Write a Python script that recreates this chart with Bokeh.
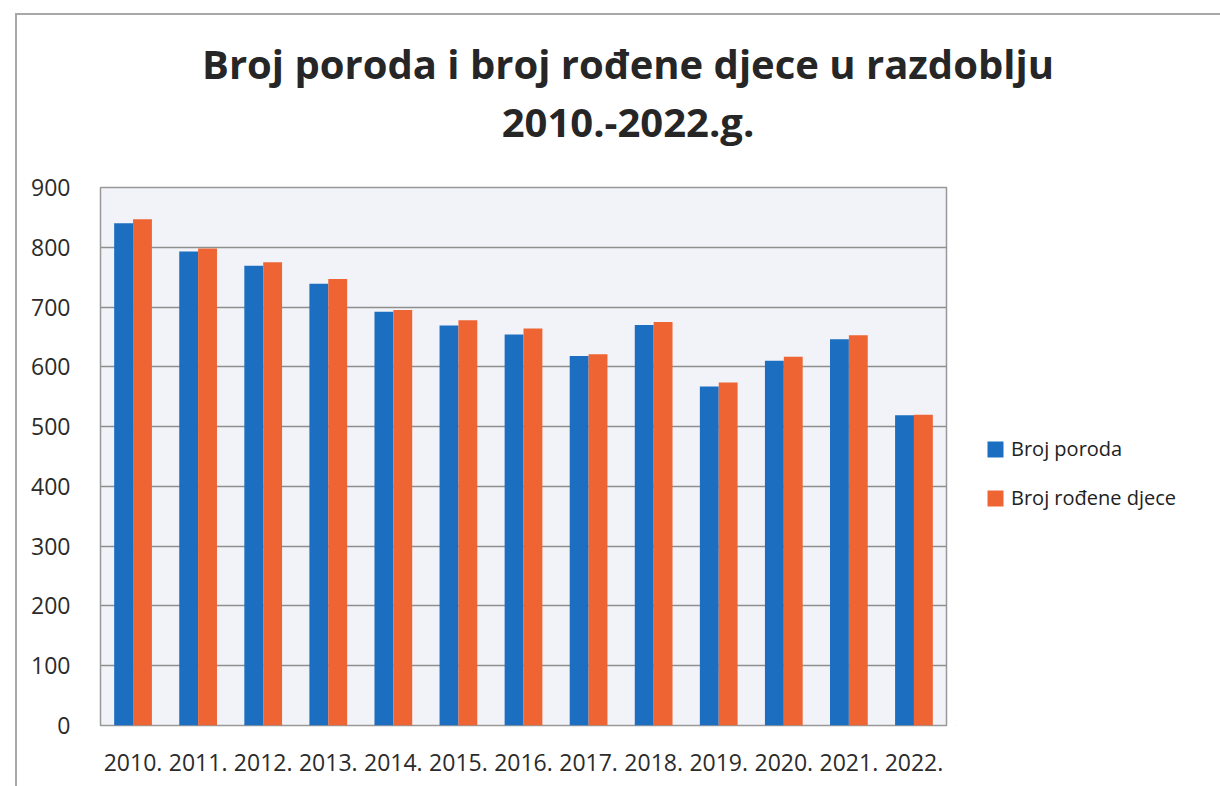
from bokeh.plotting import figure
from bokeh.models import ColumnDataSource, FactorRange, Legend, LegendItem, FixedTicker, Div
from bokeh.layouts import column, row
from bokeh.transform import dodge
from bokeh.embed import file_html
from bokeh.resources import INLINE

years = ["2010.", "2011.", "2012.", "2013.", "2014.", "2015.", "2016.",
         "2017.", "2018.", "2019.", "2020.", "2021.", "2022."]
broj_poroda = [840, 793, 769, 739, 692, 669, 654, 618, 670, 567, 610, 646, 519]
broj_rodjene_djece = [847, 798, 775, 747, 695, 678, 664, 621, 675, 574, 617, 653, 520]
y_ticks = [0, 100, 200, 300, 400, 500, 600, 700, 800, 900]

title_line1 = "Broj poroda i broj rođene djece u razdoblju"
title_line2 = "2010.-2022.g."
series_names = ["Broj poroda", "Broj rođene djece"]

BLUE = "#1c6ec1"
ORANGE = "#ee6533"
FONT = "Open Sans"

src = ColumnDataSource(dict(year=years, a=broj_poroda, b=broj_rodjene_djece))

# ---- title (with the chart-area border drawn as a thin frame) ----
title_div = Div(
    text=("<div style=\"position:absolute; left:10px; top:8px; width:1300px; height:900px; "
          "border-top:2px solid #a8a8a8; border-left:2px solid #a8a8a8; pointer-events:none;\"></div>"
          f"<div style=\"padding-top:30px; margin-left:73px; text-align:center; font-family:'Open Sans'; "
          f"font-weight:bold; font-size:40px; line-height:58px; color:#262626; width:1100px;\">"
          f"{title_line1}<br>{title_line2}</div>"),
    width=1210, height=140)

# ---- main chart ----
p = figure(x_range=FactorRange(*years, range_padding=0), y_range=(0, 900),
           width=956, height=626, output_backend="svg", toolbar_location=None,
           min_border_left=100, min_border_right=10, min_border_top=37, min_border_bottom=51)

r1 = p.vbar(x=dodge("year", -0.145, range=p.x_range), top="a", width=0.29, source=src,
            fill_color=BLUE, line_color=None)
r2 = p.vbar(x=dodge("year", 0.145, range=p.x_range), top="b", width=0.29, source=src,
            fill_color=ORANGE, line_color=None)

p.background_fill_color = "#f2f3f9"
p.border_fill_alpha = 0
p.outline_line_color = "#999999"
p.outline_line_width = 1.5

p.xgrid.grid_line_color = None
p.ygrid.grid_line_color = "#8e8e8e"
p.ygrid.grid_line_width = 1.5
p.yaxis.ticker = FixedTicker(ticks=y_ticks)

for ax in (p.xaxis[0], p.yaxis[0]):
    ax.axis_line_color = None
    ax.major_tick_line_color = None
    ax.minor_tick_line_color = None
    ax.major_label_text_font = FONT
    ax.major_label_text_font_size = "23px"
    ax.major_label_text_color = "#2b2b2b"
p.yaxis.major_label_standoff = 24
p.xaxis.major_label_standoff = 22

# ---- legend panel (separate figure so the legend is not clipped by the chart frame) ----
lg = figure(width=254, height=626, output_backend="svg", toolbar_location=None,
            x_range=(0, 1), y_range=(0, 1),
            min_border_left=0, min_border_right=0, min_border_top=0, min_border_bottom=0)
lg.axis.visible = False
lg.grid.visible = False
lg.outline_line_color = None
lg.background_fill_alpha = 0
lg.border_fill_alpha = 0
proxy = ColumnDataSource(dict(x=[-5], top=[-5]))  # off-screen proxy, only for legend swatches
k1 = lg.vbar(x="x", top="top", width=0.1, source=proxy, fill_color=BLUE, line_color=None)
k2 = lg.vbar(x="x", top="top", width=0.1, source=proxy, fill_color=ORANGE, line_color=None)

legend = Legend(items=[LegendItem(label=series_names[0], renderers=[k1]),
                       LegendItem(label=series_names[1], renderers=[k2])],
                location=(29, 214), orientation="vertical",
                glyph_width=20, glyph_height=20, label_standoff=6, label_height=20,
                spacing=22, padding=0, margin=0,
                label_text_font=FONT, label_text_font_size="20px", label_text_color="#222222",
                background_fill_alpha=0, border_line_color=None)
lg.add_layout(legend)

layout = column(title_div, row(p, lg))
open("out.html", "w").write(file_html(layout, INLINE))
